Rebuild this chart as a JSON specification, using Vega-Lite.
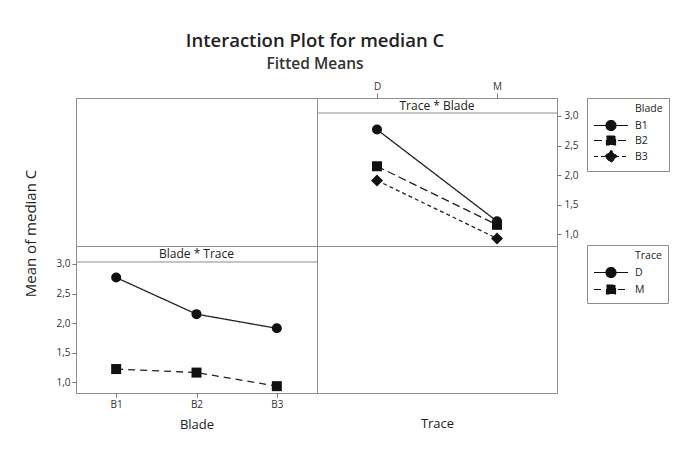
{
  "$schema": "https://vega.github.io/schema/vega-lite/v6.json",
  "background": "white",
  "padding": {"left": 22, "top": 31, "right": 8, "bottom": 8},
  "title": {"text": "Interaction Plot for median C", "subtitle": "Fitted Means", "anchor": "start", "align": "center", "dx": 239, "frame": "group", "fontSize": 18.5, "fontWeight": 600, "color": "#222", "subtitleFontSize": 15.5, "subtitleFontWeight": 600, "subtitleColor": "#333", "subtitlePadding": 7, "offset": 8},
  "datasets": {
    "means": [
      {"Blade": "B1", "Trace": "D", "mean": 2.77},
      {"Blade": "B2", "Trace": "D", "mean": 2.15},
      {"Blade": "B3", "Trace": "D", "mean": 1.91},
      {"Blade": "B1", "Trace": "M", "mean": 1.22},
      {"Blade": "B2", "Trace": "M", "mean": 1.16},
      {"Blade": "B3", "Trace": "M", "mean": 0.93}
    ]
  },
  "columns": 2,
  "spacing": 0,
  "bounds": "flush",
  "resolve": {
    "scale": {"x": "independent", "y": "independent", "strokeDash": "independent"},
    "legend": {"strokeDash": "independent"}
  },
  "concat": [
    {
      "width": 241, "height": 148,
      "data": {"values": []},
      "mark": "point",
      "encoding": {
        "x": {"field": "Blade", "type": "nominal", "scale": {"domain": ["B1", "B2", "B3"]}, "axis": null}
      }
    },
    {
      "width": 240, "height": 148,
      "layer": [
        {
          "data": {"values": [{"strip": "Trace * Blade"}]},
          "layer": [
            {"mark": {"type": "rule", "color": "#8c8c8c", "strokeWidth": 1}, "encoding": {"y": {"datum": 3.05, "type": "quantitative"}}},
            {"mark": {"type": "text", "fontSize": 12, "color": "#222"}, "encoding": {"y": {"datum": 3.177, "type": "quantitative"}, "text": {"field": "strip"}}}
          ]
        },
        {
          "data": {"name": "means"},
          "encoding": {
            "x": {"field": "Trace", "type": "nominal", "scale": {"padding": 0.5}, "axis": {"orient": "top", "title": null, "labelAngle": 0, "tickSize": 5}},
            "y": {"field": "mean", "type": "quantitative", "scale": {"domain": [0.802, 3.304], "nice": false, "zero": false}, "axis": {"orient": "right", "title": null, "values": [1, 1.5, 2, 2.5, 3], "tickCount": 20, "labelOverlap": false, "labelExpr": "replace(format(datum.value, '.1f'), '.', ',')", "tickSize": 4, "labelPadding": 3}}
          },
          "layer": [
            {
              "mark": {"type": "line", "color": "#222", "strokeWidth": 1.3},
              "encoding": {
                "strokeDash": {
                  "field": "Blade", "type": "nominal",
                  "scale": {"domain": ["B1", "B2", "B3"], "range": [[1, 0], [8, 4], [4, 3]]},
                  "legend": {
                    "title": "Blade", "orient": "none", "legendX": 270, "legendY": 0,
                    "strokeColor": "#8c8c8c", "fillColor": "white", "padding": 6, "symbolSize": 100, "labelOffset": 30,
                    "labelFontSize": 10.5, "labelColor": "#222", "titleFontSize": 10.5, "titleFontWeight": "normal", "titleColor": "#222", "titlePadding": 5, "rowPadding": 0,
                    "encoding": {
                      "symbols": {
                        "shape": {"value": {"expr": "datum.value === 'B1' ? 'M-1,0H5.8M1.4,0A1,1,0,1,1,3.4,0A1,1,0,1,1,1.4,0Z' : datum.value === 'B2' ? 'M-1,0H5.8M1.5,-0.9H3.3V0.9H1.5Z' : 'M-1,0H5.8M1.2,0L2.4,-1.2L3.6,0L2.4,1.2Z'"}},
                        "fill": {"value": "#111"}, "stroke": {"value": "#111"}, "strokeWidth": {"value": 1.2}, "size": {"value": 100}, "opacity": {"value": 1}
                      },
                      "title": {"dx": {"value": 42}}
                    }
                  }
                }
              }
            },
            {
              "mark": {"type": "point", "filled": true, "size": 100, "color": "#111", "opacity": 1},
              "encoding": {
                "shape": {"condition": [{"test": "datum.Blade === 'B1'", "value": "circle"}, {"test": "datum.Blade === 'B2'", "value": "square"}], "value": "M-1.2,0L0,-1.2L1.2,0L0,1.2Z"}
              }
            }
          ]
        }
      ]
    },
    {
      "width": 241, "height": 147,
      "layer": [
        {
          "data": {"values": [{"strip": "Blade * Trace"}]},
          "layer": [
            {"mark": {"type": "rule", "color": "#8c8c8c", "strokeWidth": 1}, "encoding": {"y": {"datum": 3.034, "type": "quantitative"}}},
            {"mark": {"type": "text", "fontSize": 12, "color": "#222"}, "encoding": {"y": {"datum": 3.17, "type": "quantitative"}, "text": {"field": "strip"}}}
          ]
        },
        {
          "data": {"name": "means"},
          "encoding": {
            "x": {"field": "Blade", "type": "nominal", "scale": {"padding": 0.5}, "axis": {"orient": "bottom", "title": "Blade", "labelAngle": 0, "tickSize": 4, "labelPadding": 2, "titlePadding": 9}},
            "y": {"field": "mean", "type": "quantitative", "scale": {"domain": [0.814, 3.305], "nice": false, "zero": false}, "axis": {"orient": "left", "title": "Mean of median C", "titleFontSize": 15, "titleX": -41, "titleY": -13, "titleAlign": "center", "titleBaseline": "alphabetic", "values": [1, 1.5, 2, 2.5, 3], "tickCount": 20, "labelOverlap": false, "labelExpr": "replace(format(datum.value, '.1f'), '.', ',')", "tickSize": 4, "labelPadding": 2}}
          },
          "layer": [
            {
              "mark": {"type": "line", "color": "#222", "strokeWidth": 1.3},
              "encoding": {
                "strokeDash": {
                  "field": "Trace", "type": "nominal",
                  "scale": {"domain": ["D", "M"], "range": [[1, 0], [7, 5]]},
                  "legend": {
                    "title": "Trace", "orient": "none", "legendX": 511, "legendY": -1,
                    "strokeColor": "#8c8c8c", "fillColor": "white", "padding": 6, "symbolSize": 100, "labelOffset": 30,
                    "labelFontSize": 10.5, "labelColor": "#222", "titleFontSize": 10.5, "titleFontWeight": "normal", "titleColor": "#222", "titlePadding": 5, "rowPadding": 2,
                    "encoding": {
                      "symbols": {
                        "shape": {"value": {"expr": "datum.value === 'D' ? 'M-1,0H5.8M1.4,0A1,1,0,1,1,3.4,0A1,1,0,1,1,1.4,0Z' : 'M-1,0H5.8M1.5,-0.9H3.3V0.9H1.5Z'"}},
                        "fill": {"value": "#111"}, "stroke": {"value": "#111"}, "strokeWidth": {"value": 1.2}, "size": {"value": 100}, "opacity": {"value": 1}
                      },
                      "title": {"dx": {"value": 42}}
                    }
                  }
                }
              }
            },
            {
              "mark": {"type": "point", "filled": true, "size": 100, "color": "#111", "opacity": 1},
              "encoding": {
                "shape": {"condition": [{"test": "datum.Trace === 'D'", "value": "circle"}], "value": "square"}
              }
            }
          ]
        }
      ]
    },
    {
      "width": 240, "height": 147,
      "data": {"values": []},
      "mark": "point",
      "encoding": {
        "x": {"field": "Trace", "type": "nominal", "scale": {"domain": ["D", "M"]}, "axis": {"title": "Trace", "labels": false, "ticks": false, "titlePadding": 24}}
      }
    }
  ],
  "config": {
    "font": "Open Sans",
    "view": {"stroke": "#8c8c8c", "strokeWidth": 1},
    "axis": {"domain": false, "grid": false, "tickColor": "#777", "labelFontSize": 10, "labelColor": "#333", "titleFontSize": 13, "titleFontWeight": "normal", "titleColor": "#222"}
  }
}
